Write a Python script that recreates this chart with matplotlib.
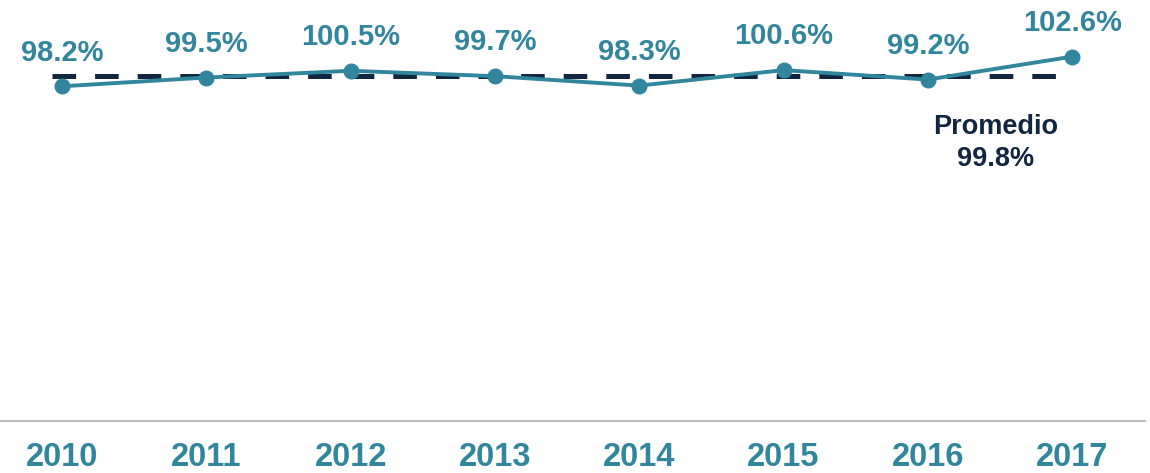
import matplotlib
matplotlib.use("Agg")
import matplotlib.pyplot as plt

years = ["2010", "2011", "2012", "2013", "2014", "2015", "2016", "2017"]
values = [98.2, 99.5, 100.5, 99.7, 98.3, 100.6, 99.2, 102.6]
average = 99.8
avg_label = ["Promedio", "99.8%"]

TEAL = "#31869E"
NAVY = "#12263F"
GRAY = "#BFBFBF"

plt.rcParams['font.family'] = ['Liberation Sans', 'DejaVu Sans']

fig = plt.figure(figsize=(11.5, 4.73), dpi=100)
ax = fig.add_axes([0.0, 1 - 420.7 / 473, 1145 / 1150, 420.7 / 473])

x = list(range(len(years)))

# average dashed line
ax.hlines(average, -0.07, 6.89, colors=NAVY, linewidth=3.6,
          linestyles=[(0, (4.72, 3.8))], zorder=2)

ax.plot(x, values, color=TEAL, linewidth=2.8, marker='o', markersize=10.5,
        zorder=3)

for xi, v in zip(x, values):
    ax.annotate(f"{v:.1f}%", (xi, v), xytext=(0, 18.5), textcoords='offset points',
                ha='center', va='baseline', fontsize=21, fontweight='bold',
                color=TEAL)

ax.annotate(avg_label[0], (6.47, average), xytext=(0, -42), textcoords='offset points',
            ha='center', va='baseline', fontsize=19.5, fontweight='bold', color=NAVY)
ax.annotate(avg_label[1], (6.47, average), xytext=(0, -65), textcoords='offset points',
            ha='center', va='baseline', fontsize=19.5, fontweight='bold', color=NAVY)

ax.set_xlim(-0.4297, 7.505)
ax.set_ylim(48.6, 111.0)
ax.set_xticks(x)
ax.set_xticklabels(years, fontsize=23.5, fontweight='bold', color=TEAL)
ax.tick_params(axis='x', length=0, pad=15)
ax.set_yticks([])
for s in ['top', 'right', 'left']:
    ax.spines[s].set_visible(False)
ax.spines['bottom'].set_color(GRAY)
ax.spines['bottom'].set_linewidth(1.5)
ax.patch.set_alpha(0)

fig.savefig("out.png", dpi=100)
